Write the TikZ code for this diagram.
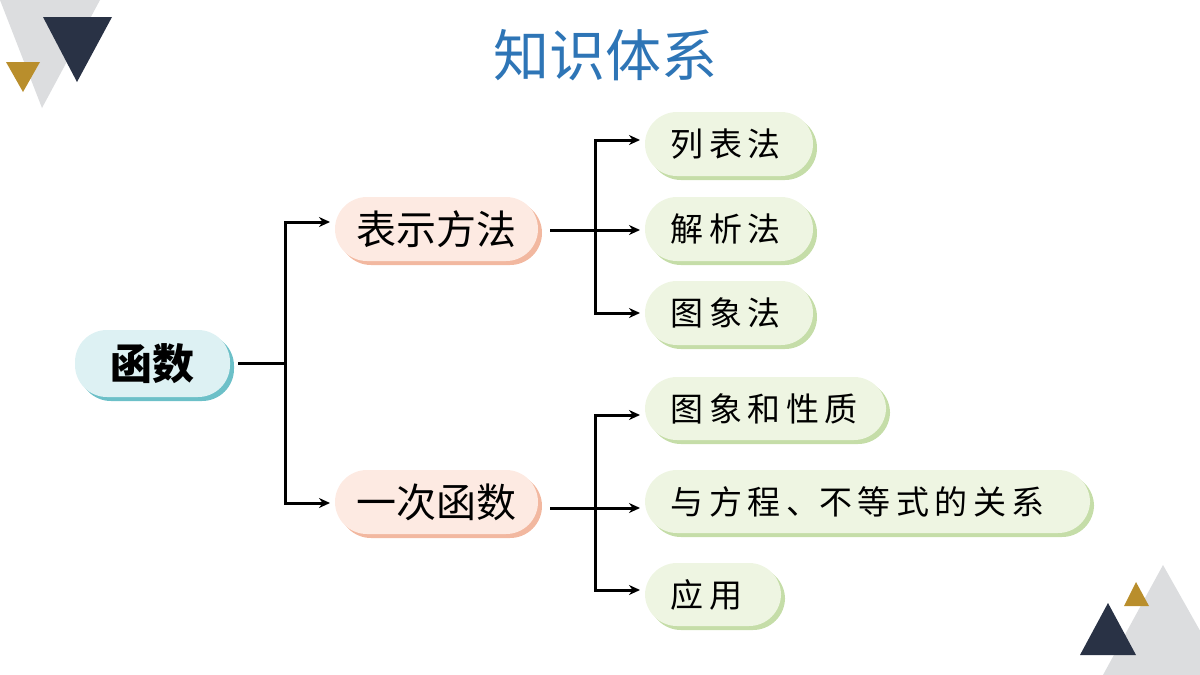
\documentclass[tikz,border=0pt]{standalone}
\usepackage{fontspec}
\newfontfamily\cjk{Noto Sans CJK SC}
\usetikzlibrary{arrows.meta}
\definecolor{navy}{HTML}{293245}
\definecolor{gold}{HTML}{B98E2C}
\definecolor{lgray}{HTML}{DCDDDF}
\definecolor{tblue}{HTML}{2E75B6}
\definecolor{bfill}{HTML}{DDF1F3}
\definecolor{bsh}{HTML}{6CC0C8}
\definecolor{ofill}{HTML}{FDEAE2}
\definecolor{osh}{HTML}{F2B8A0}
\definecolor{gfill}{HTML}{EEF5E2}
\definecolor{gsh}{HTML}{C5DDA8}
\tikzset{
 arr/.style={line width=3pt,-{Stealth[length=11pt,width=10pt]}},
 ln/.style={line width=3pt},
 mtxt/.style={font=\cjk\fontsize{40}{40}\selectfont},
 gtxt/.style={font=\cjk\fontsize{33}{33}\selectfont,anchor=west}
}
\begin{document}
\begin{tikzpicture}[x=1pt,y=-1pt]
\useasboundingbox (0,0) rectangle (1200,675);
\fill[lgray] (0,0) -- (100,0) -- (42,108) -- cycle;
\fill[navy] (43,17) -- (112,17) -- (77,82) -- cycle;
\fill[gold] (6,62) -- (40,62) -- (23,92) -- cycle;
\fill[lgray] (1163,565) -- (1225,675) -- (1103,675) -- cycle;
\fill[navy] (1080,655) -- (1136,655) -- (1108,603) -- cycle;
\fill[gold] (1124,606) -- (1149,606) -- (1136,582) -- cycle;
\node[font=\cjk\fontsize{56}{56}\selectfont,text=tblue] (title) at (605,55) {知识体系};
\def\pillnode#1#2#3#4#5#6#7{%
 \fill[#7,rounded corners=32pt] (#2+4,#4+4) rectangle (#3+4,#5+4);
 \fill[#6,rounded corners=32pt] (#2,#4) rectangle (#3,#5);
 \coordinate (#1) at ({(#2+#3)/2},{(#4+#5)/2});
 \coordinate (#1w) at (#2,{(#4+#5)/2});}
\pillnode{f}{75}{230}{330}{397}{bfill}{bsh}
\node[mtxt,font=\cjk\bfseries\fontsize{42}{42}\selectfont] (ft) at (f) {函数};
\pillnode{a}{335}{538}{197}{261}{ofill}{osh}
\node[mtxt] (at) at (a) {表示方法};
\pillnode{b}{335}{538}{470}{534}{ofill}{osh}
\node[mtxt] (bt) at (b) {一次函数};
\pillnode{a1}{645}{813}{112}{176}{gfill}{gsh}
\node[gtxt] (a1t) at ([xshift=22pt]a1w) {列\,表\,法};
\pillnode{a2}{645}{813}{197}{261}{gfill}{gsh}
\node[gtxt] (a2t) at ([xshift=22pt]a2w) {解\,析\,法};
\pillnode{a3}{645}{813}{281}{345}{gfill}{gsh}
\node[gtxt] (a3t) at ([xshift=22pt]a3w) {图\,象\,法};
\pillnode{b1}{645}{886}{377}{440}{gfill}{gsh}
\node[gtxt] (b1t) at ([xshift=22pt]b1w) {图\,象\,和\,性\,质};
\pillnode{b2}{645}{1090}{470}{533}{gfill}{gsh}
\node[gtxt] (b2t) at ([xshift=22pt]b2w) {与\,方\,程\,、不\,等\,式\,的\,关\,系};
\pillnode{b3}{645}{781}{563}{626}{gfill}{gsh}
\node[gtxt] (b3t) at ([xshift=22pt]b3w) {应\,用};
\coordinate (j0) at (285,363);
\coordinate (j1) at (595,230);
\coordinate (j2) at (595,508);
\draw[ln] (238,363) -- (j0);
\draw[arr] (j0) |- (330,222);
\draw[arr] (j0) |- (330,503);
\draw[ln] (550,230) -- (j1);
\draw[arr] (j1) |- (640,140);
\draw[arr] (j1) -- (640,230);
\draw[arr] (j1) |- (640,313);
\draw[ln] (550,508) -- (j2);
\draw[arr] (j2) |- (640,415);
\draw[arr] (j2) -- (640,508);
\draw[arr] (j2) |- (640,590);
\end{tikzpicture}
\end{document}
